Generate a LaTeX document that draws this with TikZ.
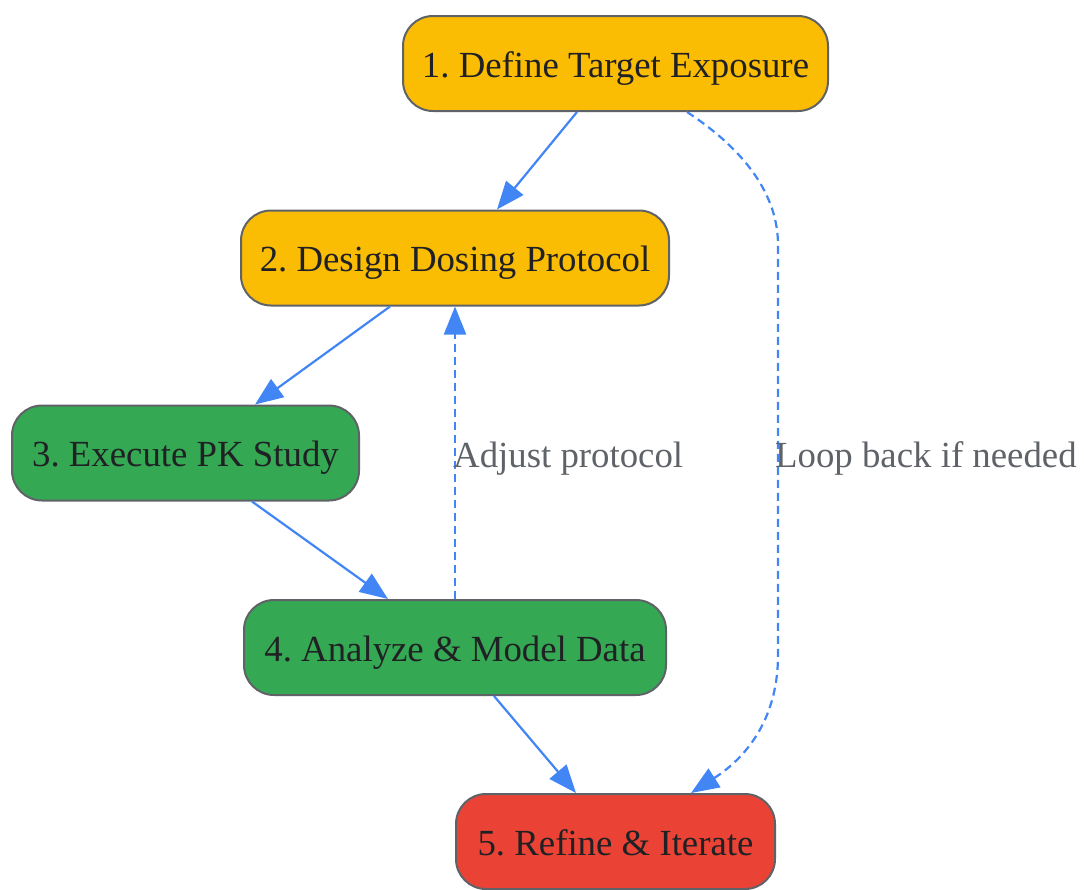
\documentclass[tikz,border=0pt]{standalone}
\usepackage{fontspec}
\setmainfont{Liberation Serif}
\frenchspacing
\usetikzlibrary{arrows.meta,calc}
\definecolor{cyellow}{HTML}{FBBC04}
\definecolor{cgreen}{HTML}{34A853}
\definecolor{cred}{HTML}{EA4335}
\definecolor{cborder}{HTML}{5F6368}
\definecolor{ctext}{HTML}{202124}
\definecolor{clabel}{HTML}{5F6368}
\definecolor{cedge}{HTML}{4285F4}
\tikzset{
  box/.style={rectangle, rounded corners=30pt, draw=cborder, line width=2pt,
    minimum height=95pt, inner sep=0pt, text=ctext,
    font=\fontsize{36.8}{40}\selectfont, text height=27pt, text depth=0pt},
  flow/.style={draw=cedge, line width=2.2pt, -{Triangle[length=28pt,width=22pt]}},
  dflow/.style={flow, dash pattern=on 8pt off 5pt},
  elabel/.style={text=clabel, font=\fontsize{36.8}{40}\selectfont, inner sep=0pt,
    anchor=west, text height=27pt, text depth=0pt}
}
\begin{document}
\begin{tikzpicture}[x=1pt,y=-1pt]
\useasboundingbox (0,0) rectangle (1084,889);
\node[box, fill=cyellow, minimum width=425pt] (n1) at (615.5,63.5) {1. Define Target Exposure};
\node[box, fill=cyellow, minimum width=428pt] (n2) at (455,258) {2. Design Dosing Protocol};
\node[box, fill=cgreen, minimum width=347pt] (n3) at (185.5,453) {3. Execute PK Study};
\node[box, fill=cgreen, minimum width=422pt] (n4) at (455,647.5) {4. Analyze \& Model Data};
\node[box, fill=cred, minimum width=319pt] (n5) at (615.5,841.5) {5. Refine \& Iterate};

\draw[flow] ($(n1.south)+(-38.5,0)$) -- ($(n2.north)+(42,0)$);
\draw[flow] ($(n2.south)+(-65,0)$) -- ($(n3.north)+(69.5,0)$);
\draw[flow] ($(n3.south)+(66.5,0)$) -- ($(n4.north)+(-67,0)$);
\draw[flow] ($(n4.south)+(39,0)$) -- ($(n5.north)+(-39.5,0)$);

\draw[dflow] (n4.north) -- (n2.south);
\node[elabel] (l1) at (453,454) {Adjust protocol};

\coordinate (ls) at ($(n1.south)+(71.5,0)$);
\coordinate (lt) at (778,245);
\coordinate (lb) at (778,655);
\draw[dflow] (ls) .. controls (745,150) and (778,195) .. (lt) -- (lb)
  .. controls (778,715) and (750,755) .. ($(n5.north)+(75.5,0)$);
\node[elabel] (l2) at (775,454) {Loop back if needed};
\end{tikzpicture}
\end{document}
